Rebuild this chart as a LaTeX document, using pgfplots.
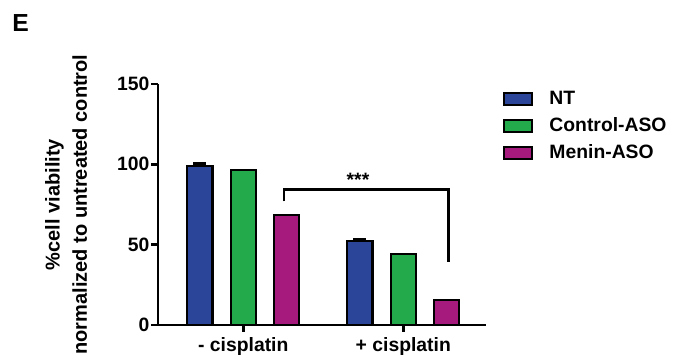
\documentclass[border=0pt]{standalone}
\usepackage{pgfplots}
\pgfplotsset{compat=1.18}
\usepackage{fontspec}
\setmainfont{Liberation Sans}
\definecolor{cblue}{RGB}{43,69,152}
\definecolor{cgreen}{RGB}{35,170,75}
\definecolor{cmag}{RGB}{166,25,125}
\begin{document}
\begin{tikzpicture}
\useasboundingbox (0,0) rectangle (507.75pt,270pt);
\node[anchor=base west, font=\bfseries\fontsize{18.5}{20}\selectfont, inner sep=0pt] at (9pt,246pt) {E};
\begin{axis}[
  at={(118.5pt,26.25pt)}, anchor=south west,
  scale only axis, width=246pt, height=180.75pt,
  ybar,
  xmin=-0.533, xmax=1.517, ymin=0, ymax=150,
  axis x line=bottom, axis y line=left,
  axis line style={-, line width=2pt, black},
  xtick={0,1}, xticklabels={- cisplatin, + cisplatin},
  ytick={0,50,100,150},
  tick align=outside, major tick length=5pt,
  tick style={line width=2pt, black},
  every tick label/.append style={font=\bfseries\fontsize{14.5}{16}\selectfont},
  /pgf/number format/assume math mode=true,
  yticklabel style={xshift=2pt},
  xticklabel style={yshift=-1pt},
  ylabel={\%cell viability\\normalized to untreated control},
  ylabel style={at={(axis description cs:-0.28,0.5)}, anchor=center, align=center, font=\bfseries\fontsize{15}{20.5}\selectfont},
  bar width=19pt,
  legend style={draw=none, at={(1.04,1.0)}, anchor=north west, font=\bfseries\fontsize{14.5}{16}\selectfont, row sep=4.5pt, yshift=-1pt},
  legend cell align=left,
  legend image code/.code={\draw[#1, line width=1.5pt] (0pt,-4.5pt) rectangle (21pt,4.5pt); \path (31pt,0pt);},
  clip=false,
]
\addplot[fill=cblue, draw=black, line width=1.6pt, bar shift=-32.6pt,
  error bars/.cd, y dir=plus, y explicit,
  error bar style={line width=1.6pt, black},
  error mark options={rotate=90, mark size=5pt, line width=2.2pt, black}]
  coordinates {(0,99.1) +- (0,1.5) (1,52.3) +- (0,1.2)};
\addplot[fill=cgreen, draw=black, line width=1.6pt, bar shift=0pt]
  coordinates {(0,96.5) (1,44.2)};
\addplot[fill=cmag, draw=black, line width=1.6pt, bar shift=32.6pt]
  coordinates {(0,68.2) (1,15.8)};
\legend{NT, Control-ASO, Menin-ASO}
\addplot[sharp plot, black, line width=2pt, mark=none, forget plot]
  coordinates {(0.254,76.9) (0.254,84.4) (1.281,84.4) (1.281,39.4)};
\node[font=\bfseries\fontsize{14.5}{16}\selectfont] at (axis cs:0.717,90.5) {***};
\end{axis}
\end{tikzpicture}
\end{document}
